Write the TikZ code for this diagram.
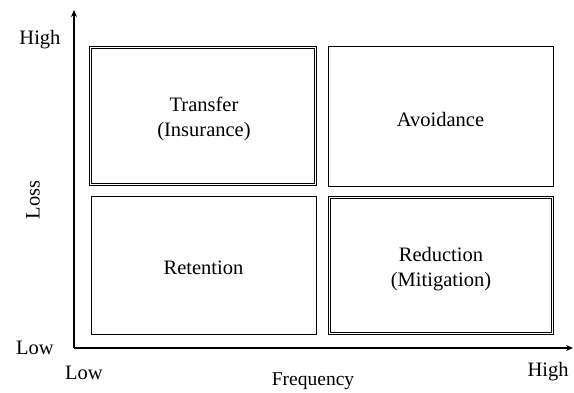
\documentclass[tikz,border=0pt]{standalone}
\usepackage{fontspec}
\setmainfont{Liberation Serif}
\usetikzlibrary{arrows.meta}
\begin{document}
\begin{tikzpicture}[x=1pt,y=-1pt,
  every node/.style={font=\fontsize{20.5}{25}\selectfont, inner sep=0pt},
  quad/.style={draw, line width=0.8pt, rectangle},
  dquad/.style={draw, double, double distance=1.8pt, line width=0.7pt, rectangle},
  txt/.style={align=center},
  axis/.style={line width=1.5pt, -{Stealth[length=7pt,width=6pt]}},
  lab/.style={}]
\useasboundingbox (0,0) rectangle (574,392);
% boxes
\node[dquad, minimum width=225pt, minimum height=137pt] (tl) at (203,116) {};
\node[quad, minimum width=225pt, minimum height=140pt] (tr) at (440.5,116) {};
\node[quad, minimum width=225pt, minimum height=138pt] (bl) at (203.5,265) {};
\node[dquad, minimum width=223pt, minimum height=136pt] (br) at (441,265.5) {};
\node[txt] (tlt) at ([xshift=1pt,yshift=-3pt]tl.center) {Transfer\\(Insurance)};
\node[txt] (trt) at ([yshift=-3pt]tr.center) {Avoidance};
\node[txt] (blt) at ([yshift=-3pt]bl.center) {Retention};
\node[txt] (brt) at ([yshift=-3.5pt]br.center) {Reduction\\(Mitigation)};
% axes
\coordinate (o) at (74,348);
\coordinate (ytip) at (74,10);
\coordinate (xtip) at (573,348);
\draw[axis] (o) -- (ytip);
\draw[axis] (o) -- (xtip);
% labels
\node[lab] (yhigh) at (40,40) {High};
\node[lab] (ylow) at (35,348) {Low};
\node[lab] (xlow) at (84,373) {Low};
\node[lab] (xhigh) at (548,372) {High};
\node[lab, font=\fontsize{19.5}{24}\selectfont] (xlab) at (313,381) {Frequency};
\node[lab, rotate=90] (ylab) at (33,200) {Loss};
\end{tikzpicture}
\end{document}
